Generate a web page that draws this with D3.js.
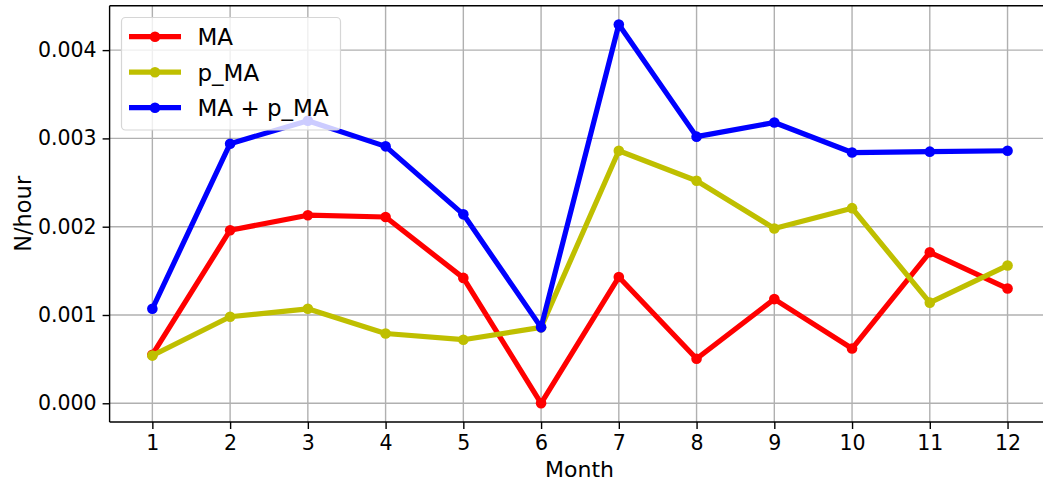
<!DOCTYPE html>
<html>
<head>
<meta charset="utf-8">
<script src="https://cdn.jsdelivr.net/npm/d3@7"></script>
<style>
  html, body { margin: 0; padding: 0; background: #fff; }
  svg { display: block; font-family: "DejaVu Sans", sans-serif; }
</style>
</head>
<body>
<svg id="chart" width="1043" height="481"></svg>
<script>
// Monthly rates (N/hour)
const months = [1, 2, 3, 4, 5, 6, 7, 8, 9, 10, 11, 12];
const maValues = [0.00055, 0.00196, 0.00213, 0.00211, 0.00142, 0.0, 0.00143, 0.000505, 0.00118, 0.00062, 0.00171, 0.00130];
const pMaValues = [0.00054, 0.00098, 0.00107, 0.00079, 0.00072, 0.00086, 0.00286, 0.00252, 0.00198, 0.00221, 0.00114, 0.00156];
const sumValues = [0.00107, 0.00294, 0.00320, 0.00291, 0.00214, 0.00086, 0.00429, 0.00302, 0.00318, 0.00284, 0.00285, 0.00286];
const yTicks = [0, 0.001, 0.002, 0.003, 0.004];
const seriesNames = ["MA", "p_MA", "MA + p_MA"];
const seriesColors = ["#ff0000", "#bfbf00", "#0000ff"];

const series = [maValues, pMaValues, sumValues].map((vals, i) => ({
  name: seriesNames[i],
  color: seriesColors[i],
  points: months.map((m, j) => ({ x: m, y: vals[j] }))
}));

const svg = d3.select("#chart");
const plot = { left: 109.6, right: 1050.3, top: 5.7, bottom: 422 };

const x = d3.scaleLinear().domain([0.45, 12.55]).range([plot.left, plot.right]);
const y = d3.scaleLinear().domain([-0.000212, 0.004503]).range([plot.bottom, plot.top]);

const tickFont = 20.5;

// Grid
const grid = svg.append("g").attr("stroke", "#b0b0b0").attr("stroke-width", 1.4);
months.forEach(m => grid.append("line")
  .attr("x1", x(m)).attr("x2", x(m)).attr("y1", plot.top).attr("y2", plot.bottom));
yTicks.forEach(t => grid.append("line")
  .attr("x1", plot.left).attr("x2", plot.right).attr("y1", y(t)).attr("y2", y(t)));

// Series lines and markers
const line = d3.line().x(d => x(d.x)).y(d => y(d.y));
series.forEach(s => {
  const g = svg.append("g");
  g.append("path").datum(s.points)
    .attr("d", line).attr("fill", "none")
    .attr("stroke", s.color).attr("stroke-width", 5.2)
    .attr("stroke-linejoin", "round").attr("stroke-linecap", "square");
  g.selectAll("circle").data(s.points).join("circle")
    .attr("cx", d => x(d.x)).attr("cy", d => y(d.y)).attr("r", 5.3)
    .attr("fill", s.color);
});

// Axes
const xAxis = d3.axisBottom(x).tickValues(months).tickSize(7).tickPadding(6).tickFormat(d3.format("d"));
const yAxis = d3.axisLeft(y).tickValues(yTicks).tickSize(7).tickPadding(6).tickFormat(d3.format(".3f"));

const gx = svg.append("g").attr("transform", `translate(0,${plot.bottom})`).call(xAxis);
const gy = svg.append("g").attr("transform", `translate(${plot.left},0)`).call(yAxis);
[gx, gy].forEach(g => {
  g.select(".domain").remove();
  g.selectAll(".tick line").attr("stroke", "#000").attr("stroke-width", 1.4);
  g.selectAll(".tick text").attr("font-size", tickFont).attr("fill", "#000")
    .attr("font-family", "DejaVu Sans");
});

// Spines
const spines = svg.append("g").attr("stroke", "#000").attr("stroke-width", 1.4);
spines.append("line").attr("x1", plot.left).attr("x2", plot.right).attr("y1", plot.bottom).attr("y2", plot.bottom);
spines.append("line").attr("x1", plot.left).attr("x2", plot.right).attr("y1", plot.top).attr("y2", plot.top);
spines.append("line").attr("x1", plot.left).attr("x2", plot.left).attr("y1", plot.top).attr("y2", plot.bottom);

// Axis titles
svg.append("text").attr("x", 579.5).attr("y", 476.5)
  .attr("text-anchor", "middle").attr("font-size", 22).text("Month");
svg.append("text")
  .attr("transform", `translate(31,${(plot.top + plot.bottom) / 2}) rotate(-90)`)
  .attr("text-anchor", "middle").attr("font-size", 22.5).text("N/hour");

// Legend
const legend = svg.append("g");
legend.append("rect")
  .attr("x", 121.5).attr("y", 17.5).attr("width", 219).attr("height", 112.5)
  .attr("rx", 4).attr("fill", "#fff").attr("fill-opacity", 0.8)
  .attr("stroke", "#d6d6d6").attr("stroke-width", 1.2);
series.forEach((s, i) => {
  const ly = 36.7 + i * 35.5;
  legend.append("line").attr("x1", 129).attr("x2", 181).attr("y1", ly).attr("y2", ly)
    .attr("stroke", s.color).attr("stroke-width", 5.2);
  legend.append("circle").attr("cx", 155).attr("cy", ly).attr("r", 5.3).attr("fill", s.color);
  legend.append("text").attr("x", 197.5).attr("y", ly + 8.3)
    .attr("font-size", 23).attr("fill", "#000").text(s.name);
});
</script>
</body>
</html>
